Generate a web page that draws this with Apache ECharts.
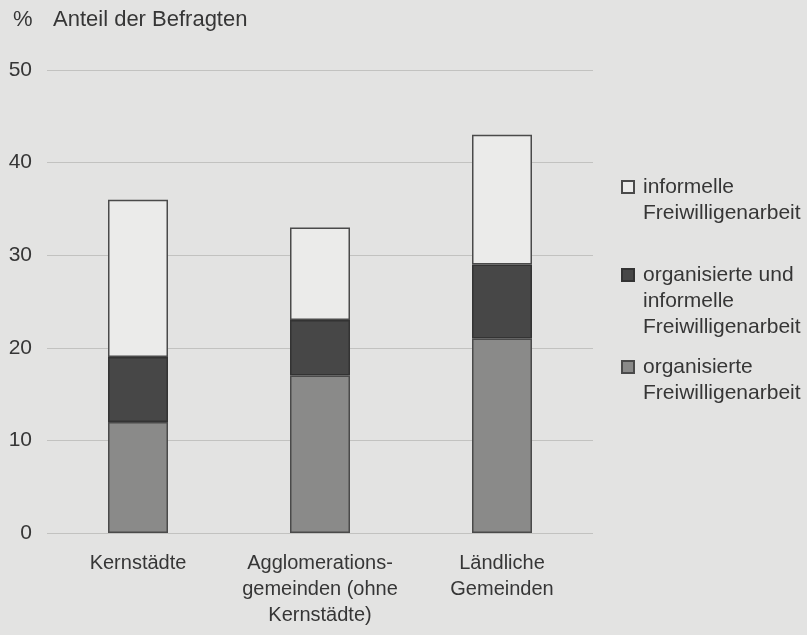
<!DOCTYPE html>
<html>
<head>
<meta charset="utf-8">
<script src="https://cdn.jsdelivr.net/npm/echarts@6/dist/echarts.min.js"></script>
<style>
  html, body { margin: 0; padding: 0; background: #e3e3e2; }
  #chart { width: 807px; height: 635px; }
</style>
</head>
<body>
<div id="chart"></div>
<script>
const categories = ['Kernstädte', 'Agglomerations-\ngemeinden (ohne\nKernstädte)', 'Ländliche\nGemeinden']
const organisiert = [12, 17, 21]
const beides = [7, 6, 8]
const informell = [17, 10, 14]
const yTicks = [0, 10, 20, 30, 40, 50]

const seriesNames = [
  'organisierte\nFreiwilligenarbeit',
  'organisierte und\ninformelle\nFreiwilligenarbeit',
  'informelle\nFreiwilligenarbeit',
]

const font = 'Liberation Sans, Arial, sans-serif'
const textColor = '#363636'
const lh = 26

// one legend per entry; blank lines in front keep the swatch next to the first text line
function legendFor(name, top) {
  const lines = name.split('\n').length
  return {
    data: [name],
    left: 621,
    top: top,
    padding: 0,
    icon: 'rect',
    itemWidth: 12,
    itemHeight: 12,
    selectedMode: false,
    formatter: (n) => '\n'.repeat(lines - 1) + n,
    textStyle: {
      fontFamily: font,
      fontSize: 21,
      lineHeight: lh,
      color: textColor,
      padding: [0, 0, 0, 4],
    },
  }
}

const titleStyle = { fontFamily: font, fontSize: 22, fontWeight: 'normal', color: textColor }

const chart = echarts.init(document.getElementById('chart'))
chart.setOption({
  backgroundColor: '#e3e3e2',
  animation: false,
  title: [
    { text: '%', left: 13, top: 9, padding: 0, textStyle: titleStyle },
    { text: 'Anteil der Befragten', left: 53, top: 9, padding: 0, textStyle: titleStyle },
  ],
  legend: [
    legendFor(seriesNames[2], 148),
    legendFor(seriesNames[1], 210),
    legendFor(seriesNames[0], 328),
  ],
  grid: { left: 47, right: 214, top: 70, bottom: 102, containLabel: false },
  xAxis: {
    type: 'category',
    data: categories,
    axisLine: { show: false },
    axisTick: { show: false },
    axisLabel: {
      margin: 17,
      interval: 0,
      fontFamily: font,
      fontSize: 20,
      lineHeight: lh,
      color: textColor,
    },
  },
  yAxis: {
    type: 'value',
    min: yTicks[0],
    max: yTicks[yTicks.length - 1],
    interval: 10,
    axisLine: { show: false },
    axisTick: { show: false },
    splitLine: { lineStyle: { color: '#c2c2c0', width: 1 } },
    axisLabel: { margin: 15, fontFamily: font, fontSize: 21, color: textColor },
  },
  series: [
    {
      name: seriesNames[0],
      type: 'bar',
      stack: 'a',
      barWidth: 60,
      data: organisiert,
      itemStyle: { color: '#8a8a89', borderColor: '#4a4a4a', borderWidth: 1.5 },
    },
    {
      name: seriesNames[1],
      type: 'bar',
      stack: 'a',
      barWidth: 60,
      data: beides,
      itemStyle: { color: '#474747', borderColor: '#333', borderWidth: 1.5 },
    },
    {
      name: seriesNames[2],
      type: 'bar',
      stack: 'a',
      barWidth: 60,
      data: informell,
      itemStyle: { color: '#ebebea', borderColor: '#4a4a4a', borderWidth: 1.5 },
    },
  ],
})
</script>
</body>
</html>
